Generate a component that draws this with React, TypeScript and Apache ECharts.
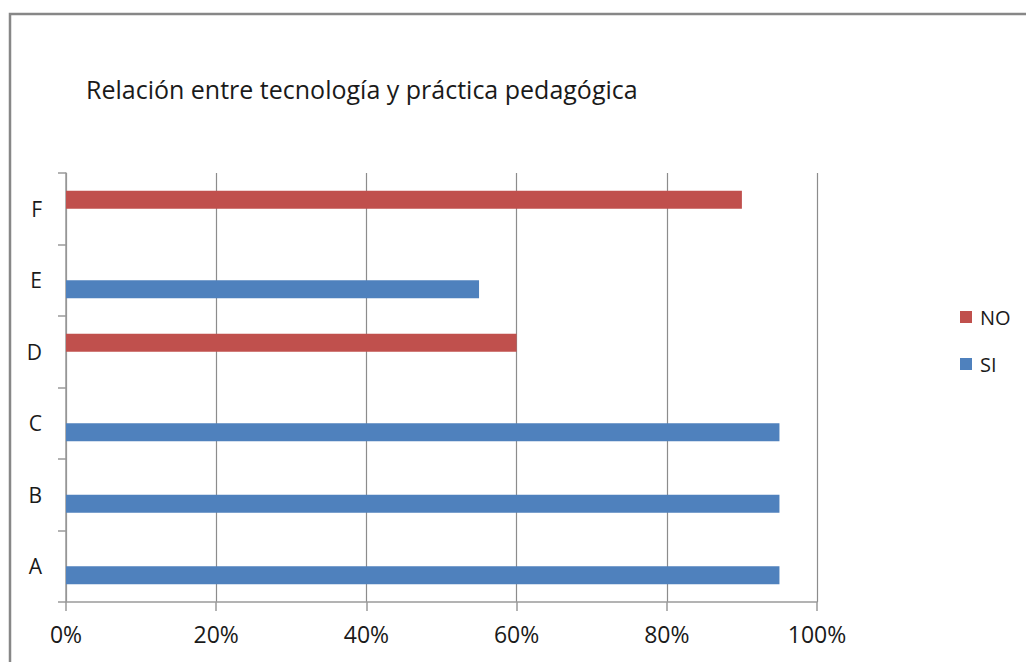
import React, { useEffect, useRef } from "react";
import * as echarts from "echarts";

const categories = ["A", "B", "C", "D", "E", "F"];
const siValues: (number | string)[] = [95, 95, 95, "-", 55, "-"];
const noValues: (number | string)[] = ["-", "-", "-", 60, "-", 90];
const xTicks = [0, 20, 40, 60, 80, 100];
const titleText = "Relación entre tecnología y práctica pedagógica";

const FONT = "'Open Sans', sans-serif";

export default function App() {
  const ref = useRef<HTMLDivElement>(null);
  useEffect(() => {
    if (!ref.current) return;
    const chart = echarts.init(ref.current, null, { renderer: "svg" });
    chart.setOption({
      animation: false,
      backgroundColor: "#ffffff",
      title: {
        text: titleText,
        left: 81,
        top: 71,
        textStyle: { fontFamily: FONT, fontSize: 25, fontWeight: "normal", color: "#1a1a1a" },
      },
      graphic: [
        {
          type: "rect",
          shape: { x: 10, y: 14, width: 1100, height: 700 },
          style: { fill: "none", stroke: "#878787", lineWidth: 2.5 },
          silent: true,
        },
      ],
      legend: {
        data: ["NO", "SI"],
        orient: "vertical",
        left: 955,
        top: 302,
        itemWidth: 12,
        itemHeight: 12,
        itemGap: 27,
        icon: "rect",
        textStyle: { fontFamily: FONT, fontSize: 20, color: "#1a1a1a", padding: [0, 0, 0, 3] },
      },
      grid: { left: 66, right: 209, top: 173, bottom: 60, containLabel: false },
      xAxis: {
        type: "value",
        min: 0,
        max: 100,
        interval: 20,
        axisLine: { show: true, lineStyle: { color: "#9a9a9a", width: 1.5 } },
        axisTick: { show: true, length: 9, lineStyle: { color: "#9a9a9a", width: 1.5 } },
        splitLine: { show: true, lineStyle: { color: "#8c8c8c", width: 1.2 } },
        axisLabel: {
          fontFamily: FONT,
          fontSize: 23,
          color: "#1a1a1a",
          margin: 20,
          formatter: (v: number) => (xTicks.includes(v) ? v + "%" : ""),
        },
      },
      yAxis: {
        type: "category",
        data: categories,
        axisLine: { show: true, lineStyle: { color: "#9a9a9a", width: 1.5 } },
        axisTick: { show: true, length: 8, lineStyle: { color: "#9a9a9a", width: 1.5 } },
        axisLabel: { fontFamily: FONT, fontSize: 21, color: "#1a1a1a", margin: 24 },
        splitLine: { show: false },
      },
      series: [
        {
          name: "NO",
          type: "bar",
          data: noValues,
          barWidth: 18,
          barGap: "0%",
          itemStyle: { color: "#C0504D" },
        },
        {
          name: "SI",
          type: "bar",
          data: siValues,
          barWidth: 18,
          barGap: "0%",
          itemStyle: { color: "#4F81BD" },
        },
      ],
    });
    return () => chart.dispose();
  }, []);
  return (
    <div
      ref={ref}
      style={{ position: "fixed", left: 0, top: 0, width: 1026, height: 662, background: "#fff" }}
    />
  );
}
